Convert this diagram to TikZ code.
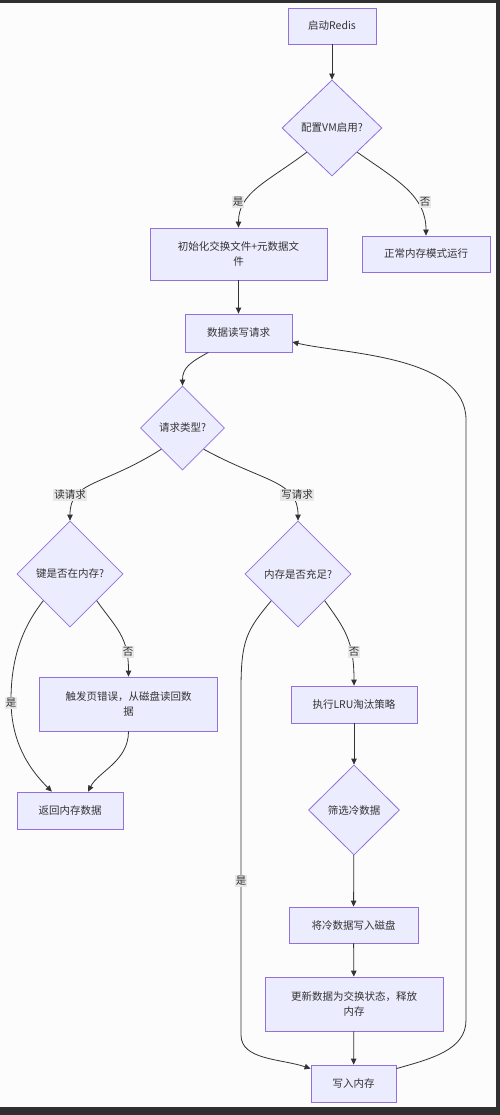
\documentclass[tikz,border=0pt]{standalone}
\usepackage{fontspec}
\setmainfont{Noto Sans CJK SC}
\usetikzlibrary{shapes.geometric,arrows.meta,calc}
\definecolor{nodefill}{HTML}{ECECFF}
\definecolor{nodeline}{HTML}{9370DB}
\definecolor{edgecol}{HTML}{333333}
\definecolor{lblbg}{HTML}{E8E8E8}
\definecolor{frame}{HTML}{303030}
\tikzset{
  box/.style={draw=nodeline, fill=nodefill, line width=0.8pt, inner sep=0pt, align=center, font=\fontsize{10.5}{15}\selectfont, text=edgecol},
  dia/.style={diamond, draw=nodeline, fill=nodefill, line width=0.8pt, inner sep=0pt, align=center, font=\fontsize{10.5}{15}\selectfont, text=edgecol},
  conn/.style={draw=edgecol, line width=0.8pt, -{Triangle[length=6pt,width=5.5pt]}},
  lbl/.style={fill=lblbg, inner sep=1.2pt, font=\fontsize{10.5}{12}\selectfont, text=edgecol}
}
\begin{document}
\begin{tikzpicture}[x=1pt,y=-1pt]
\useasboundingbox (0,0) rectangle (500,1115);
\fill[white!98!gray] (0,0) rectangle (500,1115);
\fill[frame] (0,0) rectangle (500,3);
\fill[frame] (496,0) rectangle (500,1115);
\fill[frame] (0,1107) rectangle (500,1115);
% nodes
\node[box, minimum width=88pt, minimum height=36pt] (start) at (332,26) {启动Redis};
\node[dia, minimum width=100pt, minimum height=96pt] (vm) at (332,128) {配置VM启用?};
\node[box, minimum width=177pt, minimum height=52pt] (init) at (238.5,254) {初始化交换文件+元数据文\\件};
\node[box, minimum width=128pt, minimum height=36pt] (normal) at (426,254) {正常内存模式运行};
\node[box, minimum width=107pt, minimum height=38pt] (req) at (238.5,333) {数据读写请求};
\node[dia, minimum width=84pt, minimum height=84pt] (type) at (182.5,428) {请求类型?};
\node[dia, minimum width=106pt, minimum height=106pt] (key) at (70,574) {键是否在内存?};
\node[dia, minimum width=106pt, minimum height=106pt] (mem) at (298,574) {内存是否充足?};
\node[box, minimum width=178pt, minimum height=54pt] (fault) at (128.5,704) {触发页错误，从磁盘读回数\\据};
\node[box, minimum width=106pt, minimum height=37pt] (ret) at (70,810.5) {返回内存数据};
\node[box, minimum width=126pt, minimum height=37pt] (lru) at (354,704.5) {执行LRU淘汰策略};
\node[dia, minimum width=91pt, minimum height=90pt] (cold) at (354,810) {筛选冷数据};
\node[box, minimum width=129pt, minimum height=36pt] (disk) at (353.5,925) {将冷数据写入磁盘};
\node[box, minimum width=178pt, minimum height=54pt] (upd) at (354,1004) {更新数据为交换状态，释放\\内存};
\node[box, minimum width=85pt, minimum height=37pt] (wr) at (353.5,1083.5) {写入内存};
% connectors
\draw[conn] (start) -- (vm);
\draw[conn] (vm.south west) .. controls +(-40,30) and +(0,-35) .. (init.north);
\draw[conn] (vm.south east) .. controls +(40,28) and +(0,-40) .. (normal.north);
\draw[conn] (init) -- (req);
\draw[conn] ($(req.south west)!0.22!(req.south east)$) .. controls +(-18,10) and +(0,-18) .. (type.north);
\draw[conn] (type.south west) .. controls +(-60,38) and +(0,-40) .. (key.north);
\draw[conn] (type.south east) .. controls +(60,33) and +(0,-40) .. (mem.north);
\draw[conn] (key.south west) .. controls +(-22,28) and +(0,-40) .. (11,700) .. controls +(0,45) and +(-20,-20) .. ($(ret.north west)!0.33!(ret.north east)$);
\draw[conn] (key.south east) .. controls +(20,28) and +(0,-40) .. (fault.north);
\draw[conn] (fault.south) .. controls +(0,30) and +(10,-20) .. ($(ret.north west)!0.67!(ret.north east)$);
\draw[conn] (mem.south east) .. controls +(20,28) and +(0,-45) .. (lru.north);
\draw[conn] (lru) -- (cold);
\draw[conn] (cold) -- (disk);
\draw[conn] (disk) -- (upd);
\draw[conn] (upd) -- (wr);
\draw[conn] (mem.south west) .. controls +(-25,30) and +(0,-50) .. (241,690) -- (241,1035) .. controls +(0,25) and +(-30,-10) .. ($(wr.north west)+(0,4)$);
\draw[conn] ($(wr.north east)+(0,4)$) .. controls +(35,-10) and +(0,30) .. (466,1020) -- (466,420) .. controls +(0,-65) and +(50,12) .. ($(req.east)+(0,9)$);
% labels
\node[lbl] (l1) at (238,202) {是};
\node[lbl] (l2) at (425,202) {否};
\node[lbl] (l3) at (70,495) {读请求};
\node[lbl] (l4) at (297,495) {写请求};
\node[lbl] (l5) at (11,703) {是};
\node[lbl] (l6) at (128,652) {否};
\node[lbl] (l7) at (354,652) {否};
\node[lbl] (l8) at (241,881) {是};
\end{tikzpicture}
\end{document}
